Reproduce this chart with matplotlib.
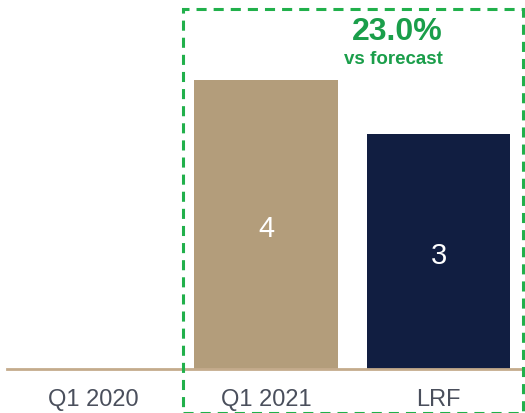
import matplotlib
matplotlib.use("Agg")
import matplotlib.pyplot as plt
from matplotlib.patches import Rectangle

plt.rcParams['font.family'] = ['Liberation Sans', 'DejaVu Sans']

categories = ["Q1 2020", "Q1 2021", "LRF"]
values = [0, 3.69, 3.0]
bar_labels = ["", "4", "3"]
bar_colors = ["#b39d7b", "#b39d7b", "#111e41"]
delta_text = "23.0%"
delta_sub = "vs forecast"

W, H = 525, 414
fig = plt.figure(figsize=(W / 100, H / 100), dpi=100)
ax = fig.add_axes([7 / W, (H - 370) / H, (525 - 7) / W, 370 / H])

x = range(len(categories))
bars = ax.bar(x, values, width=0.83, color=bar_colors, zorder=2)
for b, lab in zip(bars, bar_labels):
    if lab:
        ax.text(b.get_x() + b.get_width() / 2, b.get_height() / 2 - 0.04, lab,
                ha="center", va="center", color="white", fontsize=21)

ax.set_xlim(-0.5, 2.5)
ax.set_ylim(0, 370 / 78.3)
ax.set_xticks(list(x))
ax.set_xticklabels(categories, fontsize=17, color="#4a4f5c")
ax.tick_params(axis="x", length=0, pad=14)
ax.set_yticks([])
for s in ["top", "right", "left"]:
    ax.spines[s].set_visible(False)
ax.spines["bottom"].set_color("#c4ab8c")
ax.spines["bottom"].set_linewidth(2)
ax.spines["bottom"].set_zorder(3)

# dashed highlight box around Q1 2021 / LRF, bottom edge runs off the image
box = Rectangle((183 / W, (H - 414) / H), (523 - 183) / W, (414 - 10) / H,
                transform=fig.transFigure, fill=False, edgecolor="#21b04b",
                linewidth=2.2, linestyle=(0, (3.3, 2.3)), zorder=5)
fig.add_artist(box)

fig.text(397 / W, 1 - 32 / H, delta_text, ha="center", va="center",
         fontsize=23, fontweight="bold", color="#1a9e4a")
fig.text(393 / W, 1 - 60 / H, delta_sub, ha="center", va="center",
         fontsize=13.5, fontweight="bold", color="#1a9e4a")

fig.savefig("out.png", dpi=100)
